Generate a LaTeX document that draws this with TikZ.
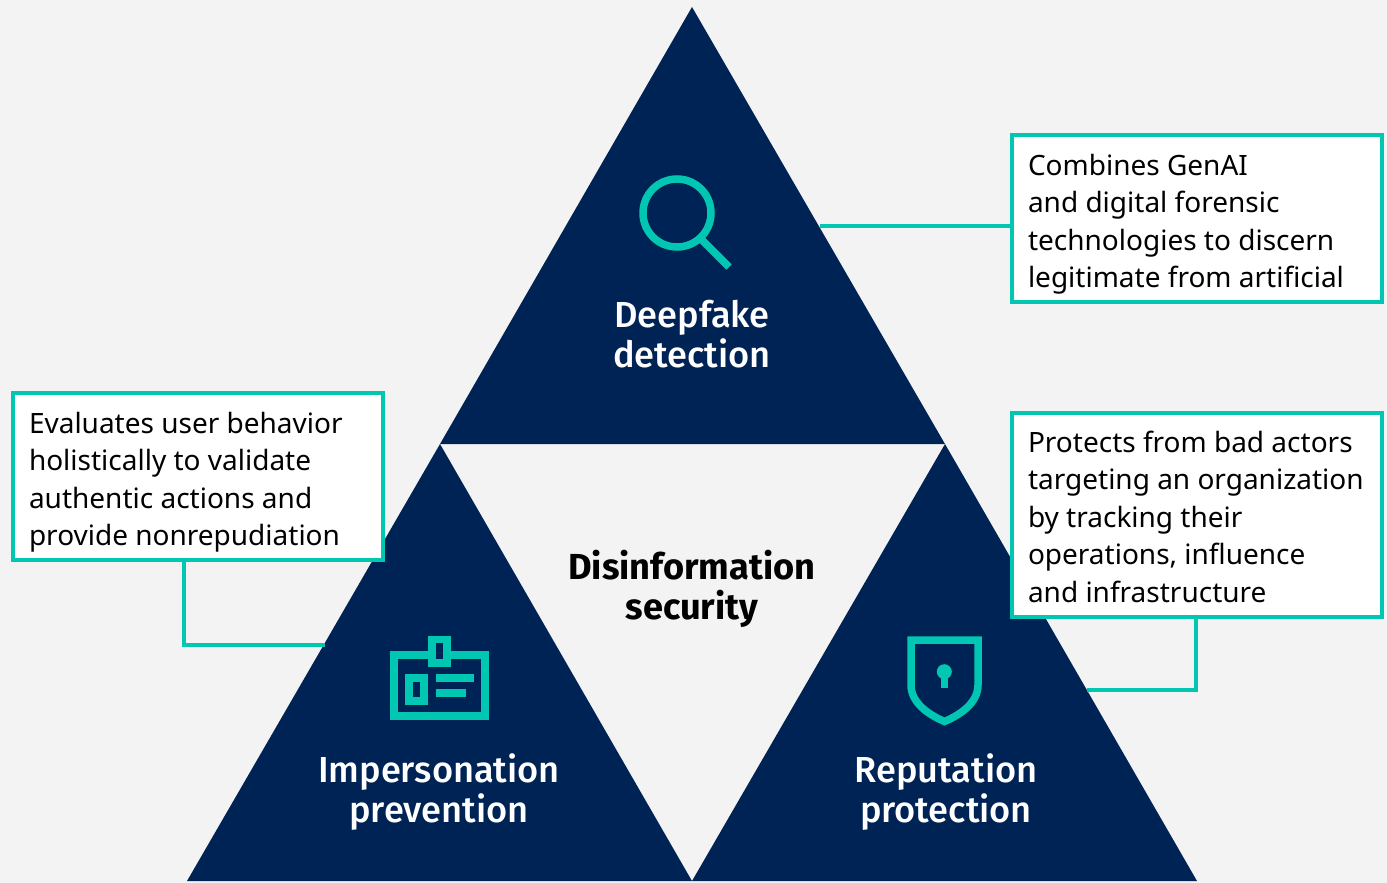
\documentclass[tikz,border=0pt]{standalone}
\usepackage{fontspec}
\setmainfont{Noto Sans}
\definecolor{navy}{HTML}{002356}
\definecolor{teal}{HTML}{00C6B2}
\definecolor{paper}{HTML}{F3F3F3}
\newfontfamily\headfont{Fira Sans Medium}
\newfontfamily\boldfont{Fira Sans Bold}
\newcommand{\bodysz}{\fontsize{14}{18.7}\selectfont}
\newcommand{\headsz}{\fontsize{18.1}{20}\selectfont}
\tikzset{
  infobox/.style={draw=teal,fill=white,line width=2pt,outer sep=0pt,anchor=north west,
    text width=169pt,inner xsep=8pt,inner ysep=0pt,align=flush left,font=\bodysz,text=black,
    minimum height=#1},
  boxdrop/.style={execute at begin node={\rule{0pt}{#1}}},
  headtext/.style={align=center,font=\headsz\headfont,text=white},
  link/.style={draw=teal,line width=2pt},
  iconline/.style={draw=teal,line width=3.75pt,miter limit=10},
}

\begin{document}
\begin{tikzpicture}[x=0.5pt,y=-0.5pt]
  \useasboundingbox (0,0) rectangle (1387,883);
  \fill[paper] (0,0) rectangle (1387,883);

  \fill[navy] (692, 7) -- (945,444) -- (440,444) -- cycle;
  \fill[navy] (440,444) -- (692,881) -- (187,881) -- cycle;
  \fill[navy] (945,444) -- (1197,881) -- (692,881) -- cycle;

  \coordinate (deeptip)    at ( 820,226);
  \coordinate (impcorner)  at ( 184,645);
  \coordinate (imptip)     at ( 325,645);
  \coordinate (repcorner)  at (1196,690);
  \coordinate (reptip)     at (1087,690);

  \node[infobox=83.5pt,boxdrop=16.5pt] (genai) at (1012,135) {Combines GenAI\\and digital forensic\\technologies to discern\\legitimate from artificial};
  \node[infobox=83.5pt,boxdrop=16.5pt] (evaluates) at (13,393) {Evaluates user behavior\\holistically to validate\\authentic actions and\\provide nonrepudiation};
  \node[infobox=102pt,boxdrop=12.5pt] (protects) at (1012,413) {Protects from bad actors\\targeting an organization\\by tracking their\\operations, influence\\and infrastructure};

  \draw[link] (genai.west |- deeptip) -- (deeptip);
  \draw[link] (evaluates.south -| impcorner) -- (impcorner) -- (imptip);
  \draw[link] (protects.south -| repcorner) -- (repcorner) -- (reptip);

  \node[headtext] (deepfake) at (692,334) {Deepfake\\detection};
  \node[headtext] (imperson) at (439,792) {Impersonation\\prevention};
  \node[headtext] (reputation) at (946,792) {Reputation\\protection};
  \node[headtext,text=black,font=\headsz\boldfont] (disinfo) at (692,589) {Disinformation\\security};

  \draw[iconline] (677,213) circle(34);
  \draw[iconline] (702,240) -- (729,267);

  \draw[iconline] (394,655) rectangle (485,716);
  \fill[teal] (428,636) rectangle (451,667);
  \fill[navy] (436,643) rectangle (443,659);
  \draw[iconline] (409,678) rectangle (424,701);
  \fill[teal] (436,674) rectangle (474,682);
  \fill[teal] (436,689) rectangle (466,697);

  \draw[iconline] (911,640) -- (978,640) -- (978,685)
    .. controls (978,702) and (962,714) .. (944.5,721.5)
    .. controls (927,714) and (911,702) .. (911,685) -- cycle;
  \fill[teal] (944.3,671.7) circle(7.5);
  \fill[teal] (941,672) rectangle (948,688);
\end{tikzpicture}
\end{document}
